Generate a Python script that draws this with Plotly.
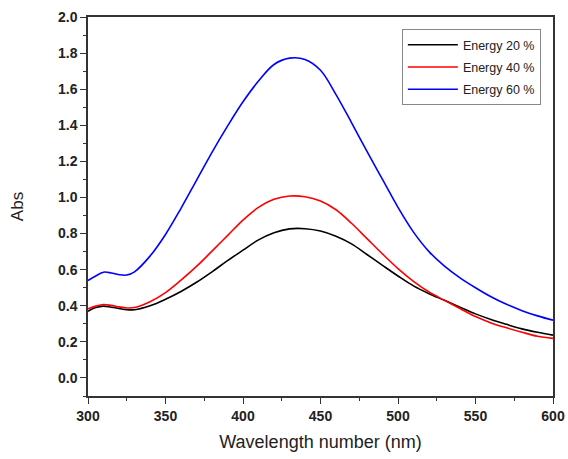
import plotly.graph_objects as go

wavelength = [300, 305, 310, 315, 320, 325, 330, 340, 350, 360, 370, 380, 390, 400,
              410, 420, 430, 440, 450, 460, 470, 480, 490, 500, 510, 520, 530,
              540, 550, 560, 570, 580, 590, 600]

energy_20 = [0.370, 0.390, 0.398, 0.392, 0.385, 0.378, 0.378, 0.400, 0.436, 0.479,
             0.530, 0.588, 0.650, 0.708, 0.765, 0.805, 0.826, 0.827, 0.814,
             0.785, 0.743, 0.684, 0.624, 0.565, 0.510, 0.467, 0.430, 0.392, 0.355,
             0.324, 0.297, 0.272, 0.253, 0.237]

energy_40 = [0.383, 0.398, 0.407, 0.402, 0.394, 0.388, 0.390, 0.422, 0.473, 0.542,
             0.618, 0.703, 0.789, 0.875, 0.945, 0.990, 1.008, 1.004, 0.980,
             0.932, 0.857, 0.772, 0.687, 0.606, 0.535, 0.476, 0.430, 0.385, 0.340,
             0.305, 0.278, 0.253, 0.231, 0.219]

energy_60 = [0.540, 0.565, 0.586, 0.582, 0.572, 0.570, 0.588, 0.675, 0.795, 0.940,
             1.095, 1.250, 1.395, 1.530, 1.645, 1.737, 1.772, 1.765, 1.705,
             1.570, 1.415, 1.255, 1.100, 0.945, 0.808, 0.700, 0.620, 0.555, 0.500,
             0.450, 0.408, 0.373, 0.344, 0.320]

series = [("Energy 20 %", energy_20, "#000000"),
          ("Energy 40 %", energy_40, "#ff0000"),
          ("Energy 60 %", energy_60, "#0000ff")]

FONT = "Liberation Sans, Arial, sans-serif"

fig = go.Figure()
for i, (name, vals, color) in enumerate(series):
    fig.add_trace(go.Scatter(
        x=wavelength, y=vals, name=name, mode="lines",
        line=dict(color=color, width=1.6, shape="spline", smoothing=1.0),
        legendgroup=f"g{i}",
    ))

axis_common = dict(
    showline=True, linecolor="#333333", linewidth=1.5, mirror=True,
    ticks="outside", ticklen=6, tickwidth=1.2, tickcolor="#333333",
    showgrid=False, zeroline=False, automargin=False,
    tickfont=dict(family=FONT, size=14, color="#222222", weight="bold"),
)

fig.update_xaxes(
    range=[300, 600], dtick=50, tick0=300,
    minor=dict(dtick=25, ticks="outside", ticklen=3, tickcolor="#333333", tickwidth=1),
    title=dict(text="Wavelength number (nm)", standoff=13,
               font=dict(family=FONT, size=18, color="#222222")),
    **axis_common,
)
fig.update_yaxes(
    range=[-0.1, 2.0], dtick=0.2, tick0=0, tickformat=".1f",
    minor=dict(dtick=0.1, ticks="outside", ticklen=3, tickcolor="#333333", tickwidth=1),
    title=dict(text="Abs", standoff=30,
               font=dict(family=FONT, size=17, color="#222222")),
    **axis_common,
)

fig.update_layout(
    width=568, height=459,
    margin=dict(l=88, r=15, t=17, b=63),
    paper_bgcolor="white", plot_bgcolor="white",
    legend=dict(
        x=0.675, y=0.968, xanchor="left", yanchor="top",
        bgcolor="white", bordercolor="#888888", borderwidth=1,
        font=dict(family=FONT, size=12.5, color="#222222"),
        tracegroupgap=3, itemwidth=50,
    ),
)

# remove the browser's default 8px body margin so the figure fills the window
fig.write_html(
    "out.html",
    config={"displayModeBar": False},
    post_script="document.body.style.margin='0';document.body.style.overflow='hidden';",
)
